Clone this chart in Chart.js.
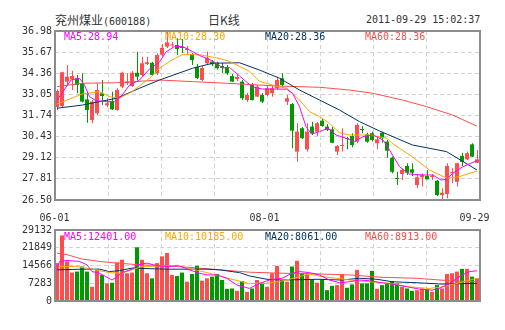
<!DOCTYPE html>
<html>
<head>
<meta charset="utf-8">
<script src="https://cdn.jsdelivr.net/npm/chart.js@4.4.0/dist/chart.umd.min.js"></script>
<style>
  body { margin: 0; background: #fff; width: 505px; height: 330px; overflow: hidden; position: relative;
         font-family: 'DejaVu Sans Mono', monospace; color: #333; }
  canvas { position: absolute; left: 0; }
  .t { position: absolute; font-size: 10px; line-height: 12px; white-space: nowrap; }
  .cn { font-family: 'Noto Sans CJK SC', sans-serif; font-size: 12px; }
  .mark { position: absolute; width: 4px; height: 4px; background: #ff4d4d; }
</style>
</head>
<body>
<div class="t" style="left:55px;top:14px"><span class="cn">兖州煤业</span>(600188)</div>
<div class="t cn" style="left:208px;top:14px">日K线</div>
<div class="t" style="left:366px;top:14px">2011-09-29 15:02:37</div>

<canvas id="price" width="505" height="225" style="top:0"></canvas>
<canvas id="vol" width="505" height="120" style="top:210px"></canvas>

<div id="priceLegend"></div>
<div id="volLegend"></div>
<div class="mark" style="left:60px;top:236px"></div>

<script>
// daily bars, 2011-06-01 .. 2011-09-29
const open = [32.27, 32.33, 33.84, 33.98, 34.05, 33.74, 32.74, 31.46, 31.88, 33.12,
  32.37, 32.60, 32.08, 33.53, 33.74, 33.57, 34.39, 34.25, 34.93, 35.01,
  34.36, 35.51, 36.01, 36.08, 36.11, 35.99, 35.80, 35.55, 34.75, 33.94,
  34.98, 35.08, 35.01, 34.81, 34.75, 34.19, 34.00, 33.84, 32.70, 33.63,
  32.91, 33.01, 33.01, 33.12, 33.43, 34.05, 32.60, 32.45, 29.50, 30.95,
  29.64, 31.05, 30.74, 31.42, 31.05, 30.88, 29.50, 29.85, 30.34, 30.47,
  30.12, 30.90, 30.57, 30.64, 30.02, 30.67, 30.12, 29.12, 27.86, 28.11,
  28.61, 28.40, 27.43, 27.91, 27.99, 27.93, 27.70, 26.81, 26.87, 28.16,
  27.63, 29.23, 29.02, 29.95, 28.81];
const high = [33.35, 34.46, 34.87, 34.52, 34.25, 34.36, 33.22, 32.70, 33.74, 33.94,
  32.81, 33.22, 33.43, 34.46, 34.36, 34.50, 35.70, 35.39, 35.39, 35.08,
  35.60, 36.17, 36.98, 36.30, 36.53, 36.48, 36.05, 35.62, 34.93, 34.81,
  35.71, 35.18, 35.08, 34.99, 34.87, 34.31, 34.31, 33.94, 33.14, 33.76,
  33.63, 33.14, 33.57, 33.63, 34.15, 34.36, 33.01, 32.52, 31.26, 31.03,
  31.26, 31.36, 31.34, 31.57, 31.21, 31.05, 29.91, 30.95, 30.43, 30.64,
  31.26, 31.09, 30.67, 30.74, 30.41, 30.74, 30.22, 29.19, 28.25, 28.47,
  28.78, 28.78, 28.05, 28.16, 28.36, 28.11, 27.74, 27.23, 28.78, 28.47,
  28.81, 29.43, 29.50, 30.02, 29.60];
const low = [32.08, 32.25, 33.63, 33.32, 33.12, 32.54, 31.29, 31.26, 31.77, 32.39,
  32.25, 32.08, 32.05, 33.43, 33.63, 33.51, 33.94, 34.15, 34.87, 34.19,
  34.25, 35.39, 35.93, 35.99, 35.49, 35.62, 35.49, 34.87, 34.00, 33.88,
  34.87, 34.81, 34.60, 34.38, 34.25, 33.82, 33.88, 32.70, 32.58, 32.67,
  32.89, 32.52, 32.95, 32.91, 33.32, 33.53, 32.39, 29.71, 28.87, 30.28,
  29.50, 30.53, 30.47, 31.05, 30.78, 30.02, 29.29, 29.50, 29.64, 29.77,
  30.02, 30.64, 30.05, 30.12, 29.64, 30.05, 29.12, 28.16, 27.43, 27.74,
  28.05, 27.99, 27.23, 27.33, 27.78, 27.74, 26.75, 26.50, 26.61, 27.54,
  27.33, 28.61, 28.98, 29.15, 28.78];
const close = [33.26, 34.42, 34.15, 34.19, 33.63, 32.60, 32.08, 32.60, 33.32, 32.95,
  32.50, 32.12, 33.32, 34.39, 33.84, 34.39, 34.15, 34.98, 35.04, 34.25,
  35.49, 35.93, 36.28, 36.14, 35.86, 35.93, 35.89, 35.18, 34.07, 34.69,
  35.31, 34.91, 34.67, 34.69, 34.36, 33.84, 34.13, 32.81, 33.01, 32.70,
  33.53, 32.60, 33.43, 33.43, 33.94, 33.63, 32.81, 30.80, 30.74, 30.33,
  30.74, 30.64, 31.26, 31.09, 30.84, 30.05, 29.85, 29.91, 30.28, 29.91,
  31.15, 30.84, 30.12, 30.22, 30.26, 30.33, 29.56, 28.25, 27.80, 28.36,
  28.19, 28.19, 27.91, 28.05, 27.78, 27.99, 26.81, 26.95, 28.61, 28.19,
  28.78, 28.86, 29.40, 29.19, 29.02];
const volume = [15544, 26915, 16238, 11662, 12077, 14157, 12077, 5837, 12771, 10691,
  7224, 7501, 15821, 16931, 11384, 11662, 22062, 16931, 11384, 9304,
  15544, 18318, 19704, 10691, 10275, 11662, 7917, 11107, 14435, 8333,
  9304, 9997, 11107, 8611, 5005, 5144, 4173, 8195, 3757, 5144,
  8611, 7501, 5837, 11384, 14435, 8611, 7917, 14157, 16515, 11384,
  11384, 8888, 7501, 8888, 4450, 6253, 6530, 11107, 5421, 6808,
  12771, 7224, 7224, 12355, 5005, 6530, 6947, 8195, 7224, 5837,
  5144, 4173, 4450, 5144, 4727, 3757, 6530, 5144, 11107, 11384,
  12077, 13186, 13186, 9997, 9304];

// moving averages as [day index, value]
const ma5 = [[0, 32.70], [1.2, 33.22], [2.8, 33.94], [4.5, 34.05], [5.5, 33.63], [6.5, 32.91], [7.8, 32.66],
  [9.8, 32.60], [11.5, 32.60], [12.8, 32.91], [14.5, 33.63], [16.5, 33.94], [18.5, 34.62], [20.5, 35.06],
  [21.8, 35.68], [23.5, 36.02], [25.1, 36.02], [26.5, 35.80], [28.5, 35.46], [30.5, 35.21], [32.1, 34.93],
  [33.1, 34.69], [34.5, 34.72], [36.5, 34.19], [37.9, 33.82], [39.1, 33.51], [41.1, 33.38], [43.9, 33.38],
  [45.9, 33.37], [47.1, 33.12], [48.5, 32.29], [49.8, 31.05], [50.9, 30.59], [52.5, 30.74], [54.2, 30.95],
  [55.8, 30.53], [57.8, 30.33], [59.5, 30.12], [61.2, 30.43], [63.2, 30.53], [65.2, 30.22], [66.5, 29.60],
  [68.5, 28.57], [70.5, 28.11], [73.2, 28.05], [75.2, 28.05], [76.8, 27.74], [77.8, 27.78], [79.2, 28.16],
  [81.2, 28.57], [84, 28.94]];
const ma10 = [[0, 32.45], [2, 32.70], [5, 33.07], [8.5, 33.22], [10.5, 32.91], [12.5, 32.81], [15, 33.22],
  [18.5, 34.05], [20.5, 34.67], [22.5, 35.09], [25, 35.51], [28.5, 35.51], [32, 35.31], [34.5, 35.10],
  [38.5, 34.48], [40.5, 33.86], [44, 33.55], [46, 33.43], [48.5, 32.70], [50.5, 31.98], [52.5, 31.67],
  [54.5, 31.26], [56.5, 30.67], [58.5, 30.53], [62.5, 30.53], [66, 30.33], [67, 30.02], [71, 29.19],
  [74.5, 28.36], [78, 27.85], [80.5, 27.95], [84, 28.30]];
const ma20 = [[0, 32.19], [5.1, 32.39], [11.9, 32.81], [16.5, 33.43], [20.5, 33.94], [27.1, 34.67],
  [31.1, 34.98], [36.5, 35.01], [40.5, 34.56], [44.5, 34.05], [48.5, 33.32], [52.5, 32.70], [56.5, 32.08],
  [60.5, 31.36], [64.5, 30.78], [71.1, 29.91], [77.9, 29.50], [84, 28.36]];
const ma60 = [[0, 33.53], [5.1, 33.74], [11.9, 33.77], [20.5, 33.94], [27.1, 33.84], [33.9, 33.74],
  [43.9, 33.57], [52.5, 33.49], [58.5, 33.32], [63.1, 33.12], [69.1, 32.70], [73.9, 32.29], [79.1, 31.77],
  [84, 31.08]];

const vma5 = [[0, 12771], [0.5, 16224], [2, 16640], [4.5, 16224], [6, 14851], [7, 12064], [8.5, 11398],
  [10, 9734], [11, 8611], [12, 9984], [13, 11648], [15, 13062], [16, 14851], [18, 15558], [20, 14435],
  [22, 14144], [24.5, 14435], [26.5, 12771], [28.5, 11398], [30, 10691], [32, 10691], [34, 9318],
  [36, 6531], [38.5, 5158], [40.5, 7238], [42.5, 8611], [45, 9318], [47, 11398], [48.5, 12064],
  [50.5, 11648], [52.5, 10691], [54.5, 8611], [56.5, 7488], [58.5, 7904], [60.5, 8611], [62.5, 8320],
  [65, 7488], [67, 6947], [70, 5824], [72.5, 4867], [75, 4451], [76.5, 5158], [78.5, 7238], [81, 10691],
  [82.5, 12064], [84, 12401]];
const vma10 = [[0, 13603], [0.5, 14144], [4, 14144], [7, 13062], [10.5, 11648], [13, 11398], [15, 12771],
  [17, 14144], [24, 14435], [27, 13062], [30, 11648], [32.5, 10275], [35, 8902], [38.5, 7155], [42, 7238],
  [45, 8195], [48, 9734], [50.5, 11107], [53, 9984], [56, 9318], [58.5, 8611], [62.5, 7904], [66.5, 7238],
  [70.5, 5824], [74.5, 5158], [77, 5824], [80, 7238], [84, 9318]];
const vma20 = [[0, 12771], [5, 13062], [8.5, 13062], [10.5, 12064], [12.5, 12480], [15, 13478], [22, 13062],
  [30, 13062], [32.5, 12771], [36.5, 11648], [38.5, 10275], [42, 8902], [45, 8611], [52, 8902], [57, 8611],
  [60.5, 9318], [64, 8902], [67, 7904], [72, 7488], [77, 6947], [84, 7238]];
const vma60 = [[0, 19635], [2, 19011], [5, 17222], [8.5, 16224], [12, 15558], [16.5, 14851], [22, 14435],
  [28.5, 13478], [38.5, 11814], [45, 11398], [52, 11107], [58.5, 10691], [65, 9734], [72, 9318],
  [78.5, 8320], [84, 7904]];

const priceTicks = [26.50, 27.81, 29.12, 30.43, 31.74, 33.05, 34.36, 35.67, 36.98];
const volTicks = [0, 7283, 14566, 21849, 29132];
const dateIndex = [0, 42, 84];
const dateLabels = ['06-01', '08-01', '09-29'];

const maNames = ['MA5', 'MA10', 'MA20', 'MA60'];
const maColors = ['#ff00ff', '#ffa500', '#003366', '#ff4d4d'];
const priceLegend = ['28.94', '28.30', '28.36', '28.36'];
const volLegend = ['12401.00', '10185.00', '8061.00', '8913.00'];

const RED = '#ff4d4d', GREEN = '#009900';
const GRID = '#d2d2d2';
const TICK_FONT = { family: 'DejaVu Sans Mono', size: 10 };
const DAYS = open.length;

// legend rows inside the two panels
function legendRow(el, values, top) {
  values.forEach((v, k) => {
    const d = document.createElement('div');
    d.className = 't';
    d.style.left = (64 + k * 100 + (k > 0 ? 1 : 0)) + 'px';
    d.style.top = top + 'px';
    d.style.color = maColors[k];
    d.textContent = maNames[k] + ':' + v;
    el.appendChild(d);
  });
}
legendRow(document.getElementById('priceLegend'), priceLegend, 31);
legendRow(document.getElementById('volLegend'), volLegend, 231);

const barColor = close.map((c, i) => c >= open[i] ? RED : GREEN);
const pts = arr => arr.map(([x, y]) => ({ x, y }));

const frame = {
  id: 'frame',
  afterDatasetsDraw(chart) {
    const { ctx, chartArea: a } = chart;
    ctx.save();
    ctx.strokeStyle = '#8c8c8c';
    ctx.lineWidth = 2;
    ctx.strokeRect(a.left, a.top, a.right - a.left, a.bottom - a.top);
    ctx.restore();
  }
};

// day axis: bodies and volume bars land on whole pixels (4px wide, 1px gap)
const X0 = -0.4;
const dayX = {
  type: 'linear', min: X0, max: X0 + DAYS, offset: false,
  afterBuildTicks: s => { s.ticks = Array.from({ length: 9 }, (_, k) => ({ value: X0 + k * DAYS / 8 })); },
  afterFit: s => { s.height = 0; },
  grid: { color: GRID, drawTicks: false, offset: false },
  border: { display: false, dash: [4, 3] },
  ticks: { display: false }
};
// wick axis, half a pixel over so the 1px wick sits on a pixel column
const wickX = { type: 'linear', display: false, offset: false, min: -0.5, max: DAYS - 0.5 };

function maLines(sets) {
  return sets.map((d, k) => ({
    type: 'line', data: pts(d), borderColor: maColors[k], borderWidth: 1,
    pointRadius: 0, tension: 0, fill: false
  }));
}

new Chart(document.getElementById('price'), {
  type: 'bar',
  data: {
    datasets: [
      ...maLines([ma5, ma10, ma20, ma60]),
      {
        data: open.map((o, i) => ({ x: i, y: [o, close[i]] })),
        backgroundColor: barColor, barThickness: 4, minBarLength: 1,
        grouped: false, inflateAmount: 0
      },
      {
        xAxisID: 'xw',
        data: low.map((l, i) => ({ x: i, y: [l, high[i]] })),
        backgroundColor: barColor, barThickness: 1,
        grouped: false, inflateAmount: 0
      }
    ]
  },
  options: {
    responsive: false, animation: false, devicePixelRatio: 1,
    layout: { padding: { top: 31, right: 25, left: 0, bottom: 0 } },
    plugins: { legend: { display: false }, tooltip: { enabled: false } },
    scales: {
      x: dayX,
      xw: wickX,
      xd: {
        type: 'linear', position: 'bottom', min: -0.5, max: DAYS - 0.5, offset: false,
        afterBuildTicks: s => { s.ticks = dateIndex.map(v => ({ value: v })); },
        afterFit: s => { s.height = 25; },
        grid: { display: false, drawTicks: false, offset: false }, border: { display: false },
        ticks: {
          autoSkip: false, maxRotation: 0, padding: 12, labelOffset: -3,
          color: '#333', font: TICK_FONT,
          callback: (v, i) => dateLabels[i]
        }
      },
      y: {
        min: 26.50, max: 36.98,
        afterBuildTicks: s => { s.ticks = priceTicks.map(v => ({ value: v })); },
        afterFit: s => { s.width = 55; },
        grid: { color: GRID, drawTicks: false },
        border: { display: false, dash: [4, 3] },
        ticks: { padding: 3, color: '#333', font: TICK_FONT, callback: v => v.toFixed(2) }
      }
    }
  },
  plugins: [frame]
});

new Chart(document.getElementById('vol'), {
  type: 'bar',
  data: {
    datasets: [
      ...maLines([vma5, vma10, vma20, vma60]),
      {
        data: volume.map((v, i) => ({ x: i, y: v })),
        backgroundColor: barColor, barThickness: 4, grouped: false, inflateAmount: 0
      }
    ]
  },
  options: {
    responsive: false, animation: false, devicePixelRatio: 1,
    layout: { padding: { top: 20, right: 25, left: 0, bottom: 29 } },
    plugins: { legend: { display: false }, tooltip: { enabled: false } },
    scales: {
      x: dayX,
      y: {
        min: 0, max: 29132,
        afterBuildTicks: s => { s.ticks = volTicks.map(v => ({ value: v })); },
        afterFit: s => { s.width = 55; },
        grid: { color: GRID, drawTicks: false },
        border: { display: false, dash: [4, 3] },
        ticks: { padding: 3, color: '#333', font: TICK_FONT, callback: v => String(v) }
      }
    }
  },
  plugins: [frame]
});
</script>
</body>
</html>
